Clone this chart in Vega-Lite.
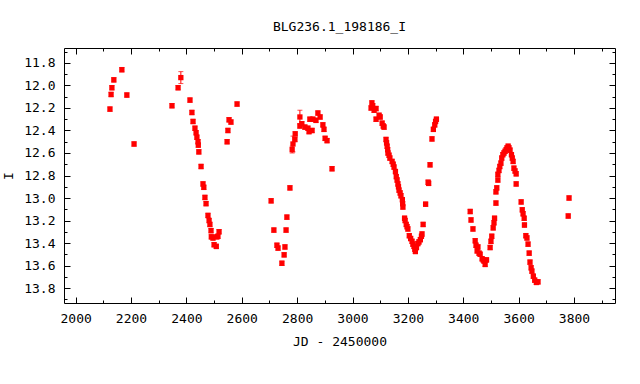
{
  "$schema": "https://vega.github.io/schema/vega-lite/v6.json",
  "width": 551,
  "height": 255,
  "autosize": {"type": "none"},
  "padding": {"left": 64, "top": 48, "right": 25, "bottom": 81},
  "background": "white",
  "title": {"text": "BLG236.1_198186_I", "font": "DejaVu Sans Mono", "fontSize": 13, "fontWeight": "normal", "color": "black", "offset": 14, "anchor": "middle"},
  "config": {
    "view": {"stroke": "black", "strokeWidth": 1},
    "axis": {
      "domain": false,
      "grid": false,
      "tickColor": "black",
      "tickWidth": 1,
      "labelFont": "DejaVu Sans Mono",
      "labelFontSize": 13,
      "labelColor": "black",
      "titleFont": "DejaVu Sans Mono",
      "titleFontSize": 13,
      "titleFontWeight": "normal",
      "titleColor": "black"
    }
  },
  "data": {"values": [
    {"JD": 2124, "I": 12.21, "e": 0.02}, {"JD": 2128, "I": 12.08, "e": 0.02}, {"JD": 2131, "I": 12.02, "e": 0.02},
    {"JD": 2138, "I": 11.95, "e": 0.02}, {"JD": 2167, "I": 11.86, "e": 0.02}, {"JD": 2185, "I": 12.085, "e": 0.02},
    {"JD": 2211, "I": 12.52, "e": 0.02}, {"JD": 2348, "I": 12.18, "e": 0.02}, {"JD": 2370, "I": 12.02, "e": 0.02},
    {"JD": 2380, "I": 11.93, "e": 0.053}, {"JD": 2413, "I": 12.13, "e": 0.02}, {"JD": 2420, "I": 12.24, "e": 0.02},
    {"JD": 2424, "I": 12.32, "e": 0.02}, {"JD": 2431, "I": 12.38, "e": 0.02}, {"JD": 2435, "I": 12.42, "e": 0.02},
    {"JD": 2438, "I": 12.46, "e": 0.02}, {"JD": 2442, "I": 12.5, "e": 0.02}, {"JD": 2443, "I": 12.53, "e": 0.02},
    {"JD": 2445, "I": 12.59, "e": 0.02}, {"JD": 2453, "I": 12.72, "e": 0.02}, {"JD": 2460, "I": 12.875, "e": 0.02},
    {"JD": 2463, "I": 12.905, "e": 0.02}, {"JD": 2467, "I": 12.995, "e": 0.02}, {"JD": 2471, "I": 13.05, "e": 0.02},
    {"JD": 2478, "I": 13.155, "e": 0.02}, {"JD": 2482, "I": 13.2, "e": 0.02}, {"JD": 2485, "I": 13.235, "e": 0.02},
    {"JD": 2489, "I": 13.29, "e": 0.02}, {"JD": 2490, "I": 13.345, "e": 0.02}, {"JD": 2496, "I": 13.355, "e": 0.02},
    {"JD": 2500, "I": 13.415, "e": 0.02}, {"JD": 2508, "I": 13.43, "e": 0.02}, {"JD": 2510, "I": 13.345, "e": 0.02},
    {"JD": 2514, "I": 13.34, "e": 0.02}, {"JD": 2518, "I": 13.3, "e": 0.02}, {"JD": 2547, "I": 12.5, "e": 0.02},
    {"JD": 2550, "I": 12.4, "e": 0.02}, {"JD": 2554, "I": 12.305, "e": 0.02}, {"JD": 2561, "I": 12.325, "e": 0.02},
    {"JD": 2583, "I": 12.165, "e": 0.02}, {"JD": 2706, "I": 13.025, "e": 0.02}, {"JD": 2716, "I": 13.285, "e": 0.02},
    {"JD": 2727, "I": 13.42, "e": 0.02}, {"JD": 2731, "I": 13.445, "e": 0.02}, {"JD": 2745, "I": 13.58, "e": 0.02},
    {"JD": 2753, "I": 13.505, "e": 0.02}, {"JD": 2756, "I": 13.435, "e": 0.02}, {"JD": 2760, "I": 13.285, "e": 0.02},
    {"JD": 2763, "I": 13.17, "e": 0.02}, {"JD": 2774, "I": 12.91, "e": 0.02}, {"JD": 2782, "I": 12.57, "e": 0.03},
    {"JD": 2785, "I": 12.52, "e": 0.07}, {"JD": 2792, "I": 12.48, "e": 0.02}, {"JD": 2793, "I": 12.43, "e": 0.02},
    {"JD": 2810, "I": 12.28, "e": 0.06}, {"JD": 2810, "I": 12.36, "e": 0.02}, {"JD": 2817, "I": 12.34, "e": 0.02},
    {"JD": 2828, "I": 12.37, "e": 0.02}, {"JD": 2839, "I": 12.38, "e": 0.02}, {"JD": 2843, "I": 12.41, "e": 0.02},
    {"JD": 2846, "I": 12.3, "e": 0.02}, {"JD": 2854, "I": 12.4, "e": 0.02}, {"JD": 2857, "I": 12.3, "e": 0.02},
    {"JD": 2868, "I": 12.31, "e": 0.02}, {"JD": 2875, "I": 12.245, "e": 0.02}, {"JD": 2883, "I": 12.28, "e": 0.02},
    {"JD": 2893, "I": 12.35, "e": 0.02}, {"JD": 2897, "I": 12.39, "e": 0.02}, {"JD": 2901, "I": 12.47, "e": 0.02},
    {"JD": 2908, "I": 12.49, "e": 0.02}, {"JD": 2926, "I": 12.74, "e": 0.02},
    {"JD": 3067, "I": 12.2, "e": 0.02}, {"JD": 3070, "I": 12.155, "e": 0.02}, {"JD": 3073, "I": 12.18, "e": 0.02},
    {"JD": 3078, "I": 12.22, "e": 0.02}, {"JD": 3085, "I": 12.205, "e": 0.02}, {"JD": 3085, "I": 12.3, "e": 0.02},
    {"JD": 3096, "I": 12.265, "e": 0.02}, {"JD": 3100, "I": 12.28, "e": 0.02}, {"JD": 3107, "I": 12.335, "e": 0.02},
    {"JD": 3111, "I": 12.36, "e": 0.02}, {"JD": 3114, "I": 12.37, "e": 0.02}, {"JD": 3121, "I": 12.48, "e": 0.02},
    {"JD": 3123, "I": 12.51, "e": 0.02}, {"JD": 3125, "I": 12.54, "e": 0.02}, {"JD": 3127, "I": 12.57, "e": 0.02},
    {"JD": 3128, "I": 12.6, "e": 0.02}, {"JD": 3132, "I": 12.62, "e": 0.02}, {"JD": 3135, "I": 12.645, "e": 0.02},
    {"JD": 3143, "I": 12.675, "e": 0.02}, {"JD": 3147, "I": 12.7, "e": 0.02}, {"JD": 3150, "I": 12.725, "e": 0.02},
    {"JD": 3155, "I": 12.765, "e": 0.02}, {"JD": 3158, "I": 12.81, "e": 0.02}, {"JD": 3161, "I": 12.84, "e": 0.02},
    {"JD": 3164, "I": 12.875, "e": 0.02}, {"JD": 3166, "I": 12.9, "e": 0.02}, {"JD": 3168, "I": 12.93, "e": 0.02},
    {"JD": 3172, "I": 12.955, "e": 0.02}, {"JD": 3175, "I": 12.98, "e": 0.02}, {"JD": 3180, "I": 13.015, "e": 0.02},
    {"JD": 3181, "I": 13.05, "e": 0.02}, {"JD": 3182, "I": 13.08, "e": 0.02}, {"JD": 3188, "I": 13.18, "e": 0.02},
    {"JD": 3190, "I": 13.2, "e": 0.02}, {"JD": 3194, "I": 13.235, "e": 0.02}, {"JD": 3197, "I": 13.255, "e": 0.02},
    {"JD": 3200, "I": 13.275, "e": 0.02}, {"JD": 3205, "I": 13.335, "e": 0.02}, {"JD": 3210, "I": 13.36, "e": 0.02},
    {"JD": 3215, "I": 13.385, "e": 0.02}, {"JD": 3218, "I": 13.41, "e": 0.02}, {"JD": 3222, "I": 13.43, "e": 0.02},
    {"JD": 3225, "I": 13.455, "e": 0.02}, {"JD": 3227, "I": 13.475, "e": 0.02}, {"JD": 3231, "I": 13.44, "e": 0.02},
    {"JD": 3236, "I": 13.405, "e": 0.02}, {"JD": 3240, "I": 13.39, "e": 0.02}, {"JD": 3245, "I": 13.37, "e": 0.02},
    {"JD": 3249, "I": 13.34, "e": 0.02}, {"JD": 3251, "I": 13.32, "e": 0.02}, {"JD": 3255, "I": 13.235, "e": 0.02},
    {"JD": 3264, "I": 13.055, "e": 0.02}, {"JD": 3273, "I": 12.86, "e": 0.02}, {"JD": 3275, "I": 12.87, "e": 0.02},
    {"JD": 3280, "I": 12.705, "e": 0.02}, {"JD": 3287, "I": 12.475, "e": 0.02}, {"JD": 3292, "I": 12.39, "e": 0.02},
    {"JD": 3297, "I": 12.35, "e": 0.02}, {"JD": 3300, "I": 12.32, "e": 0.02}, {"JD": 3303, "I": 12.3, "e": 0.02},
    {"JD": 3425, "I": 13.12, "e": 0.02}, {"JD": 3428, "I": 13.195, "e": 0.02}, {"JD": 3435, "I": 13.275, "e": 0.02},
    {"JD": 3443, "I": 13.38, "e": 0.02}, {"JD": 3446, "I": 13.42, "e": 0.02}, {"JD": 3450, "I": 13.47, "e": 0.02},
    {"JD": 3453, "I": 13.435, "e": 0.02}, {"JD": 3457, "I": 13.49, "e": 0.02}, {"JD": 3461, "I": 13.5, "e": 0.02},
    {"JD": 3468, "I": 13.54, "e": 0.02}, {"JD": 3472, "I": 13.55, "e": 0.02}, {"JD": 3475, "I": 13.56, "e": 0.02},
    {"JD": 3479, "I": 13.59, "e": 0.02}, {"JD": 3484, "I": 13.55, "e": 0.02}, {"JD": 3497, "I": 13.44, "e": 0.02},
    {"JD": 3500, "I": 13.385, "e": 0.02}, {"JD": 3503, "I": 13.34, "e": 0.02}, {"JD": 3508, "I": 13.265, "e": 0.02},
    {"JD": 3511, "I": 13.22, "e": 0.02}, {"JD": 3513, "I": 13.18, "e": 0.02}, {"JD": 3518, "I": 13.045, "e": 0.02},
    {"JD": 3518, "I": 12.945, "e": 0.02}, {"JD": 3521, "I": 12.91, "e": 0.02}, {"JD": 3525, "I": 12.84, "e": 0.02},
    {"JD": 3525, "I": 12.79, "e": 0.02}, {"JD": 3529, "I": 12.755, "e": 0.02}, {"JD": 3532, "I": 12.72, "e": 0.02},
    {"JD": 3536, "I": 12.69, "e": 0.02}, {"JD": 3539, "I": 12.645, "e": 0.02}, {"JD": 3543, "I": 12.615, "e": 0.02},
    {"JD": 3547, "I": 12.6, "e": 0.02}, {"JD": 3551, "I": 12.585, "e": 0.02}, {"JD": 3555, "I": 12.57, "e": 0.02},
    {"JD": 3558, "I": 12.555, "e": 0.02}, {"JD": 3562, "I": 12.54, "e": 0.02}, {"JD": 3565, "I": 12.555, "e": 0.02},
    {"JD": 3569, "I": 12.575, "e": 0.02}, {"JD": 3574, "I": 12.615, "e": 0.02}, {"JD": 3577, "I": 12.645, "e": 0.02},
    {"JD": 3580, "I": 12.675, "e": 0.02}, {"JD": 3583, "I": 12.735, "e": 0.02}, {"JD": 3587, "I": 12.76, "e": 0.02},
    {"JD": 3591, "I": 12.785, "e": 0.02}, {"JD": 3591, "I": 12.875, "e": 0.02}, {"JD": 3609, "I": 13.035, "e": 0.02},
    {"JD": 3613, "I": 13.105, "e": 0.02}, {"JD": 3616, "I": 13.14, "e": 0.02}, {"JD": 3620, "I": 13.18, "e": 0.02},
    {"JD": 3621, "I": 13.24, "e": 0.02}, {"JD": 3626, "I": 13.335, "e": 0.02}, {"JD": 3630, "I": 13.355, "e": 0.02},
    {"JD": 3634, "I": 13.41, "e": 0.02}, {"JD": 3638, "I": 13.49, "e": 0.02}, {"JD": 3641, "I": 13.57, "e": 0.02},
    {"JD": 3645, "I": 13.62, "e": 0.02}, {"JD": 3648, "I": 13.65, "e": 0.02}, {"JD": 3653, "I": 13.695, "e": 0.02},
    {"JD": 3658, "I": 13.73, "e": 0.02}, {"JD": 3664, "I": 13.75, "e": 0.02}, {"JD": 3670, "I": 13.745, "e": 0.02},
    {"JD": 3779, "I": 13.16, "e": 0.02}, {"JD": 3782, "I": 13.0, "e": 0.02}
  ]},
  "resolve": {"axis": {"x": "independent", "y": "independent"}},
  "layer": [
    {
      "mark": {"type": "point", "opacity": 0},
      "encoding": {
        "x": {"field": "JD", "type": "quantitative", "scale": {"domain": [1958, 3948], "nice": false, "zero": false},
          "axis": {"orient": "bottom", "title": null, "labels": false, "tickSize": -3,
            "values": [2100,2300,2500,2700,2900,3100,3300,3500,3700,3900]}},
        "y": {"field": "I", "type": "quantitative", "scale": {"domain": [11.667, 13.933], "reverse": true, "nice": false, "zero": false},
          "axis": {"orient": "left", "title": null, "labels": false, "tickSize": -3,
            "values": [11.7,11.9,12.1,12.3,12.5,12.7,12.9,13.1,13.3,13.5,13.7,13.9]}}
      }
    },
    {
      "mark": {"type": "point", "opacity": 0},
      "encoding": {
        "x": {"field": "JD", "type": "quantitative",
          "axis": {"orient": "top", "title": null, "labels": false, "tickSize": -3,
            "values": [2100,2300,2500,2700,2900,3100,3300,3500,3700,3900]}},
        "y": {"field": "I", "type": "quantitative",
          "axis": {"orient": "right", "title": null, "labels": false, "tickSize": -3,
            "values": [11.7,11.9,12.1,12.3,12.5,12.7,12.9,13.1,13.3,13.5,13.7,13.9]}}
      }
    },
    {
      "mark": {"type": "point", "opacity": 0},
      "encoding": {
        "x": {"field": "JD", "type": "quantitative",
          "axis": {"orient": "top", "title": null, "labels": false, "tickSize": -6,
            "values": [2000,2200,2400,2600,2800,3000,3200,3400,3600,3800]}},
        "y": {"field": "I", "type": "quantitative",
          "axis": {"orient": "right", "title": null, "labels": false, "tickSize": -6,
            "values": [11.8,12.0,12.2,12.4,12.6,12.8,13.0,13.2,13.4,13.6,13.8]}}
      }
    },
    {
      "mark": {"type": "point", "opacity": 0},
      "encoding": {
        "x": {"field": "JD", "type": "quantitative",
          "axis": {"orient": "bottom", "title": null, "labels": false, "tickSize": -6,
            "values": [2000,2200,2400,2600,2800,3000,3200,3400,3600,3800]}},
        "y": {"field": "I", "type": "quantitative",
          "axis": {"orient": "left", "title": null, "labels": false, "tickSize": -6,
            "values": [11.8,12.0,12.2,12.4,12.6,12.8,13.0,13.2,13.4,13.6,13.8]}}
      }
    },
    {
      "mark": {"type": "errorbar", "ticks": {"size": 5, "color": "#ff0000"}, "color": "#ff0000", "thickness": 1},
      "encoding": {
        "x": {"field": "JD", "type": "quantitative", "axis": null},
        "y": {"field": "I", "type": "quantitative", "axis": null},
        "yError": {"field": "e"}
      }
    },
    {
      "mark": {"type": "point", "shape": "square", "filled": true, "size": 28, "color": "#ff0000", "opacity": 1},
      "encoding": {
        "x": {"field": "JD", "type": "quantitative",
          "axis": {"orient": "bottom", "title": "JD - 2450000", "ticks": false, "titlePadding": 10, "labelPadding": 9, "format": "d",
            "values": [2000,2200,2400,2600,2800,3000,3200,3400,3600,3800]}},
        "y": {"field": "I", "type": "quantitative",
          "axis": {"orient": "left", "title": "I", "ticks": false, "titlePadding": 8, "labelPadding": 9, "format": ".1f",
            "values": [11.8,12.0,12.2,12.4,12.6,12.8,13.0,13.2,13.4,13.6,13.8]}}
      }
    }
  ]
}
